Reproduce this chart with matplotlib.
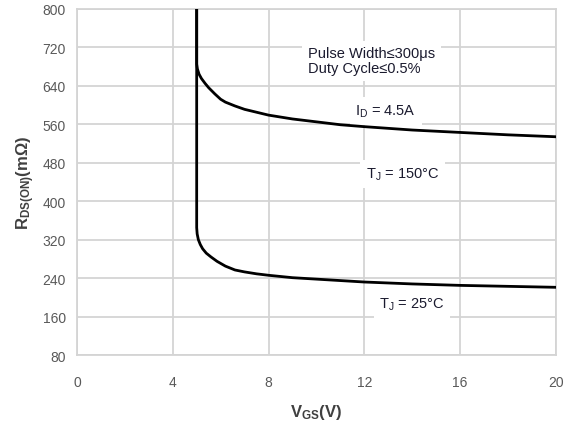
import matplotlib
matplotlib.use("Agg")
import matplotlib.pyplot as plt

plt.rcParams['font.family'] = ['Liberation Sans', 'DejaVu Sans']
plt.rcParams['mathtext.fontset'] = 'custom'
plt.rcParams['mathtext.rm'] = 'Liberation Sans'
plt.rcParams['mathtext.it'] = 'Liberation Sans'
plt.rcParams['mathtext.bf'] = 'Liberation Sans:bold'

# R_DS(ON) vs V_GS, I_D = 4.5 A
vgs_150 = [5.0, 5.0, 5.03, 5.1, 5.2, 5.35, 5.5, 5.76, 6.0, 6.2, 6.6, 7.0, 7.5,
           8.0, 9.0, 10, 11, 12, 14, 16, 18, 20]
rds_150 = [800, 685, 675, 664, 655, 645, 636, 623, 612, 606, 598, 591, 585,
           579, 571, 565, 559, 555, 548, 543, 538, 534]
vgs_25 = [5.0, 5.0, 5.02, 5.07, 5.15, 5.25, 5.4, 5.6, 5.85, 6.2, 6.6, 7.0, 7.5,
          8.0, 9.0, 10, 12, 14, 16, 18, 20]
rds_25 = [800, 345, 332, 320, 310, 301, 292, 284, 275, 265, 257, 253, 249,
          246, 241, 238, 232, 228, 225, 223, 221]

x_ticks = [0, 4, 8, 12, 16, 20]
y_ticks = [80, 160, 240, 320, 400, 480, 560, 640, 720, 800]

fig = plt.figure(figsize=(5.66, 4.27), dpi=100)
ax = fig.add_axes([0.136, 0.166, 0.846, 0.811])

grid_c = '#d4d4d4'
ax.set_xlim(0, 20)
ax.set_ylim(80, 800)
ax.set_xticks(x_ticks)
ax.set_yticks(y_ticks)
ax.grid(True, color=grid_c, linewidth=1.3)
ax.set_axisbelow(True)
for s in ax.spines.values():
    s.set_color(grid_c)
    s.set_linewidth(1.3)
ax.tick_params(length=0, labelsize=10, colors='#595959', pad=8)
ax.tick_params(axis='x', pad=14)

ax.plot(vgs_150, rds_150, color='black', lw=2.0, solid_joinstyle='round', zorder=3)
ax.plot(vgs_25, rds_25, color='black', lw=2.0, solid_joinstyle='round', zorder=3)

ax.set_xlabel(r'$\mathbf{V_{GS}(V)}$', fontsize=12, color='#404040', labelpad=10)
ax.set_ylabel(r'$\mathbf{R_{DS(ON)}(m\Omega)}$', fontsize=12, color='#404040', labelpad=4)

box = dict(facecolor='white', edgecolor='none', pad=4)
txt_c = '#1a1a2e'
ax.text(9.65, 692, 'Pulse Width≤300μs\nDuty Cycle≤0.5%', fontsize=10.5,
        color=txt_c, va='center', ha='left', linespacing=1.1, bbox=box, zorder=2.5)
ax.text(12.9, 588, r'I$_\mathregular{D}$ = 4.5A', fontsize=10.5, color=txt_c,
        va='center', ha='center', bbox=box, zorder=2.5)
ax.text(13.6, 457, r'T$_\mathregular{J}$ = 150°C', fontsize=10.5, color=txt_c,
        va='center', ha='center', bbox=box, zorder=2.5)
ax.text(14.0, 186, r'T$_\mathregular{J}$ = 25°C', fontsize=10.5, color=txt_c,
        va='center', ha='center', bbox=box, zorder=2.5)

fig.savefig('out.png', dpi=100)
